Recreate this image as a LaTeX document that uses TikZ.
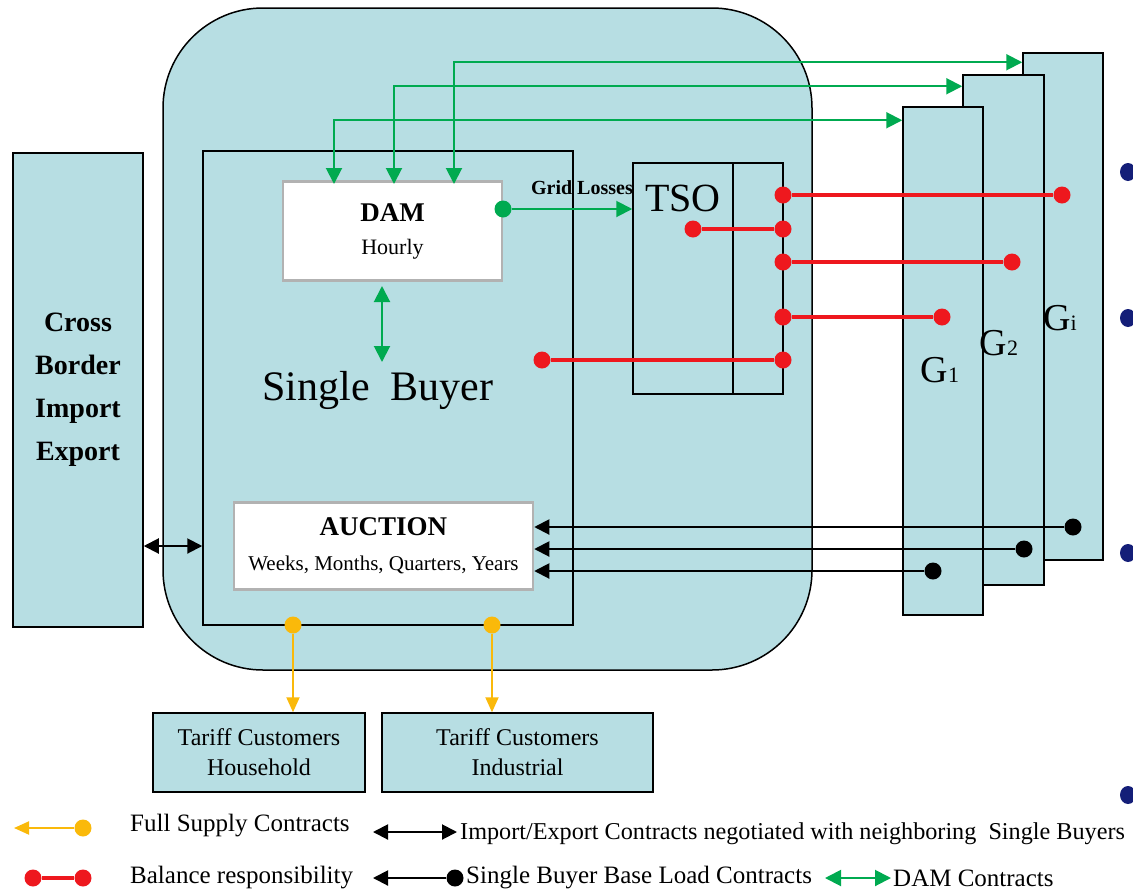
\documentclass[tikz,border=0pt]{standalone}
\usepackage{fontspec}
\setmainfont{Liberation Serif}
\usetikzlibrary{arrows.meta}

\definecolor{panel}{RGB}{183,222,227}
\definecolor{balred}{RGB}{238,24,30}
\definecolor{damgreen}{RGB}{0,170,80}
\definecolor{supyellow}{RGB}{250,185,10}
\definecolor{bulletblue}{RGB}{20,30,120}

\begin{document}
\begin{tikzpicture}[x=1pt, y=-1pt,
	box/.style={draw, line width=1.5pt, fill=panel, inner sep=0pt},
	whitebox/.style={draw=gray!60, line width=2.5pt, fill=white, inner sep=0pt, align=center},
	dot/.style={circle, fill, inner sep=0pt, minimum size=17pt},
	balance/.style={balred, line width=4pt},
	damc/.style={damgreen, line width=2pt, {Triangle[length=16pt,width=16pt]}-{Triangle[length=16pt,width=16pt]}},
	gridloss/.style={damgreen, line width=2pt, -{Triangle[length=16pt,width=16pt]}},
	impexp/.style={black, line width=2pt, {Triangle[length=15pt,width=15pt]}-{Triangle[length=15pt,width=15pt]}},
	baseload/.style={black, line width=2pt, -{Triangle[length=15pt,width=15pt]}},
	supply/.style={supyellow, line width=2pt, -{Triangle[length=15pt,width=13pt]}},
	legend/.style={anchor=west, inner sep=0pt, font=\fontsize{25}{28}\selectfont}]
	\useasboundingbox (0,0) rectangle (1133,892);
	\clip (0,0) rectangle (1133,892);

	% market region and boxes
	\node[box, rounded corners=100pt, minimum width=649pt, minimum height=662pt] (region) at (487.5,339) {};
	\node[draw, line width=1.5pt, minimum width=370pt, minimum height=474pt] (buyer) at (388,388) {};
	\node[box, minimum width=130pt, minimum height=474pt, align=center,
	      font=\bfseries\fontsize{28}{43}\selectfont] (xborder) at (78,390) {Cross\\Border\\Import\\Export};

	\node[box, minimum width=80pt, minimum height=507pt] (gi) at (1063,306.5) {};
	\node[box, minimum width=81pt, minimum height=510pt] (g2) at (1003.5,330) {};
	\node[box, minimum width=80pt, minimum height=508pt] (g1) at (943,361) {};
	\node[font=\fontsize{38}{38}\selectfont] (gilab) at (1060,318) {G{\fontsize{22}{22}\selectfont i}};
	\node[font=\fontsize{38}{38}\selectfont] (g2lab) at (999,343) {G{\fontsize{22}{22}\selectfont 2}};
	\node[font=\fontsize{38}{38}\selectfont] (g1lab) at (940,370) {G{\fontsize{22}{22}\selectfont 1}};

	\node[draw, line width=1.5pt, minimum width=150pt, minimum height=231pt] (tso) at (708,278.5) {};
	\draw[line width=1.5pt] ([xshift=25pt]tso.north) -- ([xshift=25pt]tso.south);
	\node[font=\fontsize{40}{40}\selectfont] (tsolab) at (683,198) {TSO};

	\node[whitebox, minimum width=219pt, minimum height=99pt, font=\fontsize{22}{33}\selectfont] (dam) at (392.5,231)
	     {{\bfseries\fontsize{27}{33}\selectfont DAM}\\Hourly};
	\node[whitebox, minimum width=299pt, minimum height=87pt, font=\fontsize{21}{35}\selectfont] (auction) at (383.5,546)
	     {{\bfseries\fontsize{27}{35}\selectfont AUCTION}\\Weeks, Months, Quarters, Years};
	\node[font=\fontsize{42}{42}\selectfont] (sblab) at (378,390) {Single \ Buyer};

	\node[box, minimum width=212pt, minimum height=79pt, align=center,
	      font=\fontsize{24}{30}\selectfont] (house) at (259,752.5) {Tariff Customers\\Household};
	\node[box, minimum width=271pt, minimum height=79pt, align=center,
	      font=\fontsize{24}{30}\selectfont] (ind) at (517.5,752.5) {Tariff Customers\\Industrial};

	% DAM contracts with the generators
	\draw[damc] ([yshift=-14pt]g1.north west) -| (334,184);
	\draw[damc] ([yshift=-12pt]g2.north west) -| (394,184);
	\draw[damc] ([yshift=-10pt]gi.north west) -| (454,184);
	\coordinate (sbtop) at (382,362);
	\draw[damc] (sbtop |- 0,286) -- (sbtop);

	% grid losses
	\node[dot, damgreen] (gl) at (503,209) {};
	\draw[gridloss] (gl) -- (gl -| tso.west);
	\node[font=\bfseries\fontsize{20}{20}\selectfont, anchor=south east, inner sep=0pt] (gllab) at (633,195) {Grid Losses};

	% balance responsibility
	\node[dot, balred] (t1) at (783,195) {};
	\node[dot, balred] (k1) at (1062,195) {};
	\node[dot, balred] (t2) at (783,229) {};
	\node[dot, balred] (k2) at (693,229) {};
	\node[dot, balred] (t3) at (783,262) {};
	\node[dot, balred] (k3) at (1012,262) {};
	\node[dot, balred] (t4) at (783,317) {};
	\node[dot, balred] (k4) at (942,317) {};
	\node[dot, balred] (t5) at (783,360) {};
	\node[dot, balred] (k5) at (542,360) {};
	\foreach \i in {1,...,5}
		\draw[balance] (t\i) -- (k\i);

	% base load contracts
	\node[dot, black] (b1) at (1073,527) {};
	\node[dot, black] (b2) at (1024,549) {};
	\node[dot, black] (b3) at (933,571) {};
	\foreach \i in {1,2,3}
		\draw[baseload] (b\i) -- (b\i -| auction.east);

	% cross border
	\draw[impexp] (xborder.east |- auction) -- (buyer.west |- auction);

	% full supply
	\node[dot, supyellow] (s1) at (293,625) {};
	\node[dot, supyellow] (s2) at (492,625) {};
	\draw[supply] (s1) -- (s1 |- house.north);
	\draw[supply] (s2) -- (s2 |- ind.north);

	% legend
	\node[dot, supyellow] (lsup) at (83,828) {};
	\coordinate (lsupt) at (14,828);
	\draw[supply] (lsup) -- (lsupt);
	\node[legend] (tsup) at (130,826) {Full Supply Contracts};
	\coordinate (lie1) at (373,832);
	\coordinate (lie2) at (457,832);
	\draw[impexp] (lie1) -- (lie2);
	\node[legend, font=\fontsize{24.2}{28}\selectfont] (tie) at (460,834) {Import/Export Contracts negotiated with neighboring \ Single Buyers};
	\node[dot, balred] (lbal1) at (33,878) {};
	\node[dot, balred] (lbal2) at (83,878) {};
	\draw[balance] (lbal1) -- (lbal2);
	\node[legend] (tbal) at (130,878) {Balance responsibility};
	\node[dot, black] (lbl) at (455,878) {};
	\coordinate (lblt) at (373,878);
	\draw[baseload] (lbl) -- (lblt);
	\node[legend] (tbl) at (466,878) {Single Buyer Base Load Contracts};
	\coordinate (ldam1) at (825,878);
	\coordinate (ldam2) at (891,878);
	\draw[damc] (ldam1) -- (ldam2);
	\node[legend] (tdam) at (893,878) {DAM Contracts};

	% bullets at the right edge
	\foreach \y in {172,318,553,795}
		\fill[bulletblue] (1128,\y) circle [x radius=8pt, y radius=9pt];
\end{tikzpicture}
\end{document}
